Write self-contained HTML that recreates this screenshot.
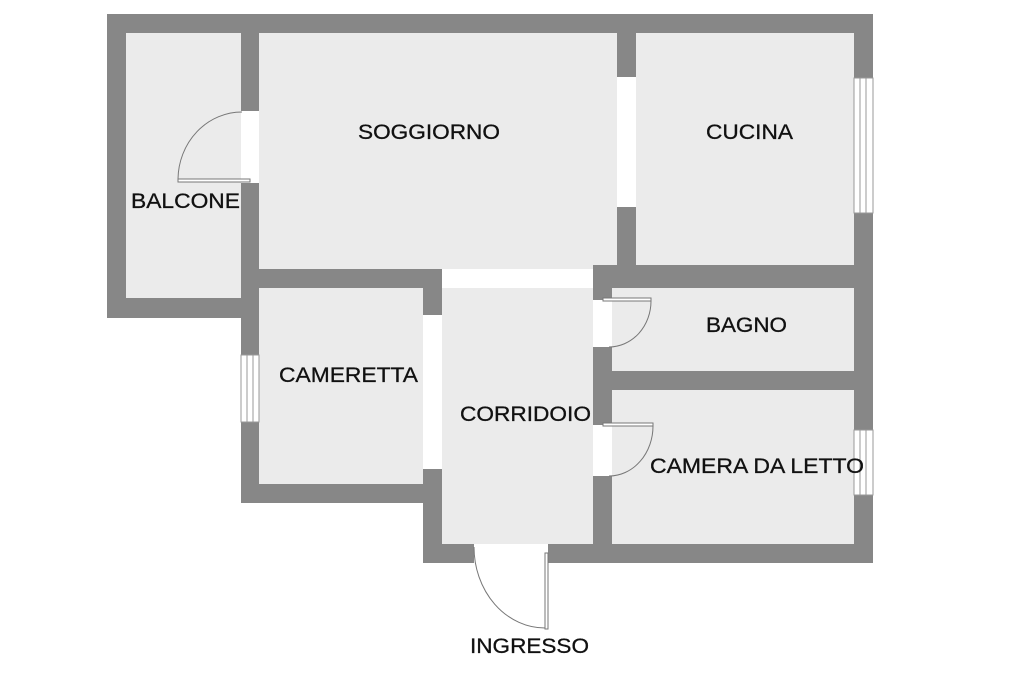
<!DOCTYPE html>
<html><head><meta charset="utf-8"><style>
html,body{margin:0;padding:0;background:#fff;}
svg{display:block}
text{font-family:"Liberation Sans",Arial,sans-serif;font-size:21px;fill:#111;stroke:#111;stroke-width:0.3;}
</style></head><body>
<svg width="1024" height="682" viewBox="0 0 1024 682" xmlns="http://www.w3.org/2000/svg">
<rect width="1024" height="682" fill="#fff"/>
<g fill="#ebebeb">
<rect x="126" y="33" width="115" height="265"/>
<rect x="259" y="33" width="358" height="236"/>
<rect x="636" y="33" width="218" height="232"/>
<rect x="259" y="288" width="164" height="196"/>
<rect x="442" y="288" width="151" height="256"/>
<rect x="612" y="288" width="242" height="83"/>
<rect x="612" y="390" width="242" height="154"/>
</g>
<g fill="#878787">
<rect x="107" y="14" width="766" height="19"/>
<rect x="107" y="14" width="19" height="304"/>
<rect x="107" y="298" width="152" height="20"/>
<rect x="241" y="14" width="18" height="489"/>
<rect x="241" y="269" width="201" height="19"/>
<rect x="423" y="269" width="19" height="294"/>
<rect x="241" y="484" width="201" height="19"/>
<rect x="617" y="14" width="19" height="274"/>
<rect x="593" y="265" width="280" height="23"/>
<rect x="593" y="265" width="19" height="298"/>
<rect x="593" y="371" width="280" height="19"/>
<rect x="854" y="14" width="19" height="549"/>
<rect x="423" y="544" width="450" height="19"/>
</g>
<g fill="#fff">
<rect x="241" y="111" width="18" height="72"/>
<rect x="423" y="315" width="19" height="154"/>
<rect x="442" y="269" width="151" height="19"/>
<rect x="617" y="77" width="19" height="130"/>
<rect x="593" y="300" width="19" height="47"/>
<rect x="593" y="425" width="19" height="51"/>
<rect x="474" y="544" width="74" height="19"/>
</g>
<g fill="#fff" stroke="#999" stroke-width="1">
<rect x="854" y="78" width="19" height="135"/>
<line x1="860" y1="78" x2="860" y2="213"/><line x1="866" y1="78" x2="866" y2="213"/>
<rect x="854" y="430" width="19" height="65"/>
<line x1="860" y1="430" x2="860" y2="495"/><line x1="866" y1="430" x2="866" y2="495"/>
<rect x="241" y="355" width="18" height="67"/>
<line x1="247" y1="355" x2="247" y2="422"/><line x1="253" y1="355" x2="253" y2="422"/>
</g>
<g fill="none" stroke="#777" stroke-width="1">
<rect x="178" y="179" width="72" height="3" fill="#fff"/>
<path d="M178 179 A 64 68 0 0 1 242 112"/>
<rect x="603" y="298" width="48" height="3" fill="#fff"/>
<path d="M651 301 A 42 46 0 0 1 609 347"/>
<rect x="603" y="423" width="50" height="3" fill="#fff"/>
<path d="M653 426 A 44 50 0 0 1 609 476"/>
<rect x="545" y="553" width="3" height="76" fill="#fff"/>
<path d="M474 547 A 71 81 0 0 0 545 628"/>
</g>
<text x="358" y="139" textLength="142" lengthAdjust="spacingAndGlyphs">SOGGIORNO</text>
<text x="706" y="139" textLength="87" lengthAdjust="spacingAndGlyphs">CUCINA</text>
<text x="131" y="208" textLength="109" lengthAdjust="spacingAndGlyphs">BALCONE</text>
<text x="706" y="332" textLength="81" lengthAdjust="spacingAndGlyphs">BAGNO</text>
<text x="279" y="382" textLength="139" lengthAdjust="spacingAndGlyphs">CAMERETTA</text>
<text x="460" y="421" textLength="131" lengthAdjust="spacingAndGlyphs">CORRIDOIO</text>
<text x="650" y="473" textLength="214" lengthAdjust="spacingAndGlyphs">CAMERA DA LETTO</text>
<text x="470" y="653" textLength="119" lengthAdjust="spacingAndGlyphs">INGRESSO</text>
</svg>
</body></html>
